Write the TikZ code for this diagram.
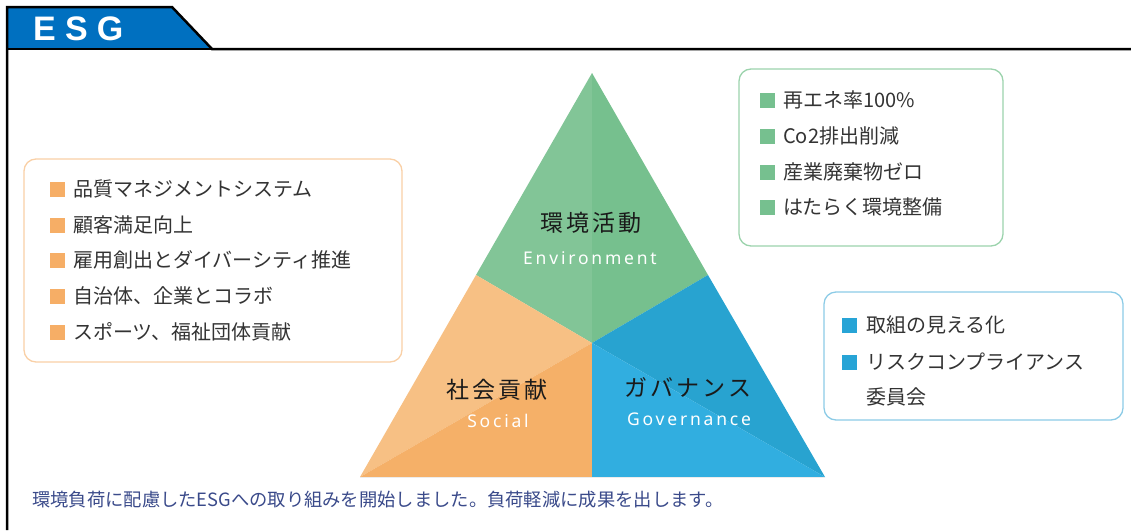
\documentclass[tikz,border=0pt]{standalone}
\usepackage{fontspec}
\usepackage{xcolor}
\setmainfont{Noto Sans CJK JP}
\newfontfamily\jpfont{Noto Sans CJK JP}
\newfontfamily\jpwide[LetterSpace=13]{Noto Sans CJK JP}
\newfontfamily\enwide[LetterSpace=16]{Noto Sans}
\newfontfamily\esgfont[LetterSpace=27]{Liberation Sans}

\definecolor{tabblue}{HTML}{0070C0}
\definecolor{envlight}{HTML}{82C597}
\definecolor{envdark}{HTML}{76C08E}
\definecolor{soclight}{HTML}{F7C084}
\definecolor{socdark}{HTML}{F5B068}
\definecolor{govdark}{HTML}{28A3D0}
\definecolor{govlight}{HTML}{31AEE0}
\definecolor{socline}{HTML}{F9D0A6}
\definecolor{envline}{HTML}{9BD3AC}
\definecolor{govline}{HTML}{8CCBE6}
\definecolor{socsq}{HTML}{F6AE66}
\definecolor{envsq}{HTML}{76C08F}
\definecolor{govsq}{HTML}{27A4D6}
\definecolor{txtgray}{HTML}{333333}
\definecolor{titletxt}{HTML}{1A1A1A}
\definecolor{notetxt}{HTML}{3A4A8A}

\begin{document}
\begin{tikzpicture}[x=1pt,y=-1pt,
	listbox/.style={rounded corners=12pt, line width=1.3pt},
	item/.style={anchor=west, inner sep=0pt, text=txtgray, font=\jpfont\fontsize{20}{24}\selectfont},
	sq/.style={anchor=west, inner sep=0pt, minimum size=15pt},
	title/.style={inner sep=0pt, text=titletxt, font=\jpwide\fontsize{23}{27}\selectfont},
	subtitle/.style={inner sep=0pt, text=white, font=\enwide\fontsize{17.5}{20}\selectfont}]

	\useasboundingbox (0,0) rectangle (1131,530);

	% Tab and frame
	\fill[tabblue] (7,7) -- (172,7) -- (212,49) -- (7,49) -- cycle;
	\draw[black, line width=2.5pt] (7,530) -- (7,7) -- (172,7) -- (212,49) -- (1131,49);
	\draw[black, line width=2.5pt] (7,49) -- (212,49);
	\node[anchor=west, inner sep=0pt, text=white, font=\esgfont\bfseries\fontsize{34}{36}\selectfont] (esg) at (33,29) {ESG};

	% Triangle points
	\coordinate (apex) at (592,73);
	\coordinate (bl) at (360,477);
	\coordinate (br) at (825,477);
	\coordinate (bm) at (592,477);
	\coordinate (ctr) at (592,343);
	\coordinate (lm) at (476,275);
	\coordinate (rm) at (708,275);

	% Environment
	\fill[envlight] (apex) -- (lm) -- (ctr) -- cycle;
	\fill[envdark] (apex) -- (ctr) -- (rm) -- cycle;
	% Social
	\fill[soclight] (lm) -- (ctr) -- (bl) -- cycle;
	\fill[socdark] (ctr) -- (bm) -- (bl) -- cycle;
	% Governance
	\fill[govdark] (ctr) -- (rm) -- (br) -- cycle;
	\fill[govlight] (ctr) -- (br) -- (bm) -- cycle;
	\draw[white!85!gray, line width=1pt] (bl) -- (br);

	% Labels
	\node[title] (envjp) at (591,223) {環境活動};
	\node[subtitle] (enven) at (590,258) {Environment};
	\node[title] (socjp) at (497,390) {社会貢献};
	\node[subtitle] (socen) at (498,421) {Social};
	\node[title] (govjp) at (688,387) {ガバナンス};
	\node[subtitle] (goven) at (689,419) {Governance};

	% Social box
	\draw[socline, listbox] (24,159) rectangle (402,362);
	\node[sq, fill=socsq] (s1) at (50,189) {};
	\node[item] (t1) at (73,189) {品質マネジメントシステム};
	\node[sq, fill=socsq] (s2) at (50,225) {};
	\node[item] (t2) at (73,225) {顧客満足向上};
	\node[sq, fill=socsq] (s3) at (50,260) {};
	\node[item] (t3) at (73,260) {雇用創出とダイバーシティ推進};
	\node[sq, fill=socsq] (s4) at (50,296) {};
	\node[item] (t4) at (73,296) {自治体、企業とコラボ};
	\node[sq, fill=socsq] (s5) at (50,332) {};
	\node[item] (t5) at (73,332) {スポーツ、福祉団体貢献};

	% Environment box
	\draw[envline, listbox] (739,69) rectangle (1003,246);
	\node[sq, fill=envsq] (e1) at (760,100) {};
	\node[item] (u1) at (783,100) {再エネ率100\%};
	\node[sq, fill=envsq] (e2) at (760,136) {};
	\node[item] (u2) at (783,136) {Co2排出削減};
	\node[sq, fill=envsq] (e3) at (760,172) {};
	\node[item] (u3) at (783,172) {産業廃棄物ゼロ};
	\node[sq, fill=envsq] (e4) at (760,207) {};
	\node[item] (u4) at (783,207) {はたらく環境整備};

	% Governance box
	\draw[govline, listbox] (824,292) rectangle (1123,420);
	\node[sq, fill=govsq] (g1) at (842,325) {};
	\node[item] (v1) at (866,325) {取組の見える化};
	\node[sq, fill=govsq] (g2) at (842,362) {};
	\node[item] (v2) at (866,362) {リスクコンプライアンス};
	\node[item] (v3) at (866,397) {委員会};

	% Note
	\node[anchor=west, inner sep=0pt, text=notetxt, font=\jpfont\fontsize{18.3}{22}\selectfont] (note) at (32,500) {環境負荷に配慮したESGへの取り組みを開始しました。負荷軽減に成果を出します。};

\end{tikzpicture}
\end{document}
